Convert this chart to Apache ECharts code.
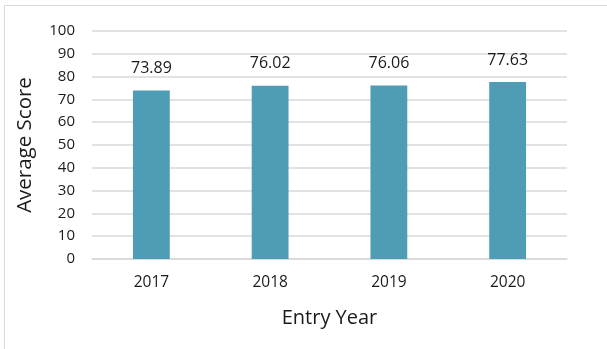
<!DOCTYPE html>
<html>
<head>
    <meta charset="utf-8">
    <title>Average Score by Entry Year</title>
    <style>
        html, body { margin: 0; padding: 0; background: #fff; }
    </style>
</head>
<body>
<div id="main" style="width: 607px; height: 349px;"></div>

<script src="https://cdn.jsdelivr.net/npm/echarts@6/dist/echarts.min.js"></script>
<script>
    // data
    var years = ['2017', '2018', '2019', '2020'];
    var scores = [73.89, 76.02, 76.06, 77.63];
    var yTicks = [0, 10, 20, 30, 40, 50, 60, 70, 80, 90, 100];

    var font = '"Open Sans", "Noto Sans", sans-serif';
    var chart = echarts.init(document.getElementById('main'));

    var option = {
        animation: false,
        backgroundColor: '#fff',
        textStyle: { fontFamily: font },
        graphic: [{
            type: 'rect',
            shape: { x: 4.5, y: 5.5, width: 620, height: 360 },
            style: { fill: 'none', stroke: '#d9d9d9', lineWidth: 1 },
            silent: true
        }],
        grid: { left: 92, right: 40, top: 31, bottom: 90 },
        xAxis: {
            type: 'category',
            data: years,
            name: 'Entry Year',
            nameLocation: 'middle',
            nameGap: 49,
            nameTextStyle: { fontSize: 20, color: '#1a1a1a', fontFamily: font },
            axisTick: { show: false },
            axisLine: { lineStyle: { color: '#d9d9d9', width: 1.5 } },
            axisLabel: { fontSize: 15.5, color: '#1a1a1a', margin: 16, fontFamily: font }
        },
        yAxis: {
            type: 'value',
            min: yTicks[0],
            max: yTicks[yTicks.length - 1],
            interval: 10,
            name: 'Average Score',
            nameLocation: 'middle',
            nameGap: 56,
            nameRotate: 90,
            nameTextStyle: { fontSize: 20.5, color: '#1a1a1a', fontFamily: font },
            axisLine: { show: false },
            axisTick: { show: false },
            axisLabel: { fontSize: 15, color: '#1a1a1a', margin: 17, fontFamily: font },
            splitLine: { lineStyle: { color: '#d9d9d9', width: 1.5 } }
        },
        series: [{
            type: 'bar',
            data: scores,
            barWidth: '31%',
            itemStyle: { color: '#4e9db4' },
            label: {
                show: true,
                position: 'top',
                distance: 14,
                fontSize: 16,
                color: '#1a1a1a',
                fontFamily: font,
                formatter: function (p) { return p.value.toFixed(2); }
            }
        }]
    };

    chart.setOption(option);
</script>
</body>
</html>
